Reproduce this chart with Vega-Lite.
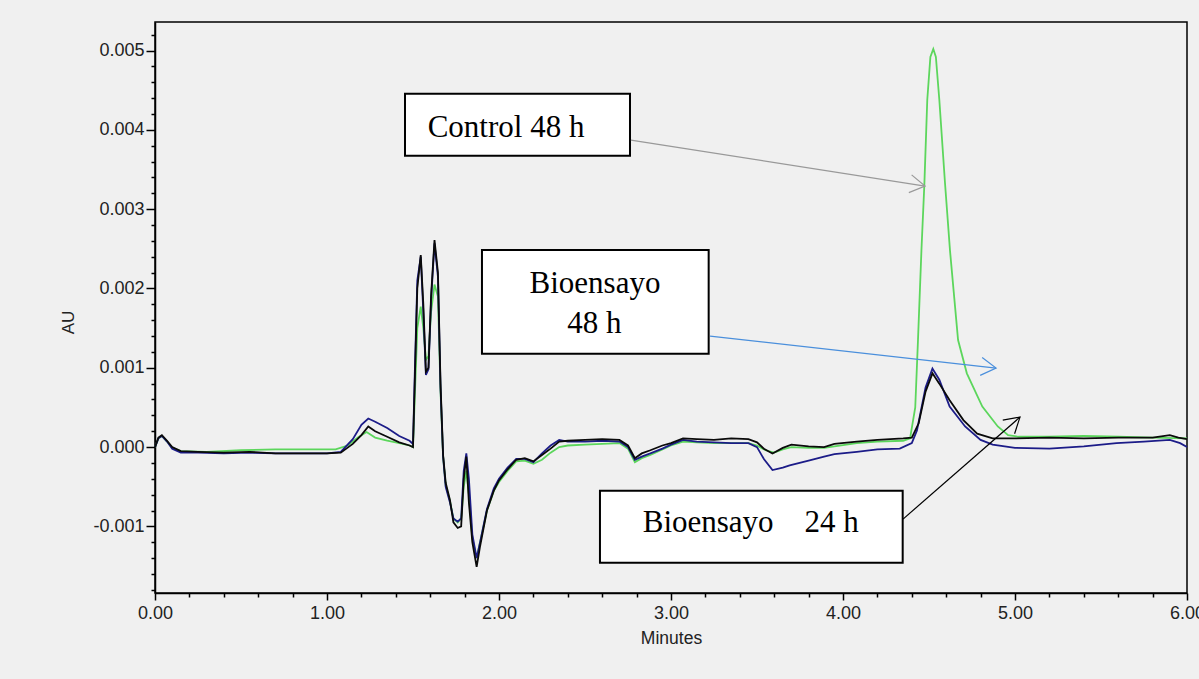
{
  "$schema": "https://vega.github.io/schema/vega-lite/v6.json",
  "autosize": {"type": "none"},
  "width": 1032,
  "height": 571,
  "padding": {"left": 155, "top": 22, "right": 12, "bottom": 86},
  "background": "#f0f0f0",
  "config": {
    "view": {"stroke": "#000000", "strokeWidth": 1.5, "fill": null},
    "font": "Liberation Sans",
    "axis": {"labelOverlap": false, "labelBound": false, "labelFlush": false, "grid": false}
  },
  "resolve": {"axis": {"x": "independent", "y": "independent"}},
  "datasets": {
    "traces": [
      {"s": "Control 48 h", "t": 0.00, "v": 0.00000},
      {"s": "Control 48 h", "t": 0.02, "v": 0.00011},
      {"s": "Control 48 h", "t": 0.04, "v": 0.00014},
      {"s": "Control 48 h", "t": 0.07, "v": 0.00007},
      {"s": "Control 48 h", "t": 0.10, "v": -0.00001},
      {"s": "Control 48 h", "t": 0.15, "v": -0.00005},
      {"s": "Control 48 h", "t": 0.30, "v": -0.00006},
      {"s": "Control 48 h", "t": 0.50, "v": -0.00004},
      {"s": "Control 48 h", "t": 0.70, "v": -0.00003},
      {"s": "Control 48 h", "t": 0.90, "v": -0.00003},
      {"s": "Control 48 h", "t": 1.05, "v": -0.00003},
      {"s": "Control 48 h", "t": 1.12, "v": 0.00002},
      {"s": "Control 48 h", "t": 1.18, "v": 0.00012},
      {"s": "Control 48 h", "t": 1.23, "v": 0.00019},
      {"s": "Control 48 h", "t": 1.28, "v": 0.00012},
      {"s": "Control 48 h", "t": 1.35, "v": 0.00008},
      {"s": "Control 48 h", "t": 1.42, "v": 0.00005},
      {"s": "Control 48 h", "t": 1.48, "v": 0.00002},
      {"s": "Control 48 h", "t": 1.50, "v": 0.00000},
      {"s": "Control 48 h", "t": 1.51, "v": 0.00060},
      {"s": "Control 48 h", "t": 1.525, "v": 0.00150},
      {"s": "Control 48 h", "t": 1.545, "v": 0.00177},
      {"s": "Control 48 h", "t": 1.56, "v": 0.00150},
      {"s": "Control 48 h", "t": 1.575, "v": 0.00110},
      {"s": "Control 48 h", "t": 1.59, "v": 0.00115},
      {"s": "Control 48 h", "t": 1.605, "v": 0.00170},
      {"s": "Control 48 h", "t": 1.625, "v": 0.00205},
      {"s": "Control 48 h", "t": 1.645, "v": 0.00190},
      {"s": "Control 48 h", "t": 1.66, "v": 0.00070},
      {"s": "Control 48 h", "t": 1.675, "v": -0.00012},
      {"s": "Control 48 h", "t": 1.69, "v": -0.00048},
      {"s": "Control 48 h", "t": 1.715, "v": -0.00068},
      {"s": "Control 48 h", "t": 1.735, "v": -0.00090},
      {"s": "Control 48 h", "t": 1.76, "v": -0.00095},
      {"s": "Control 48 h", "t": 1.78, "v": -0.00090},
      {"s": "Control 48 h", "t": 1.795, "v": -0.00050},
      {"s": "Control 48 h", "t": 1.81, "v": -0.00030},
      {"s": "Control 48 h", "t": 1.825, "v": -0.00060},
      {"s": "Control 48 h", "t": 1.845, "v": -0.00115},
      {"s": "Control 48 h", "t": 1.87, "v": -0.00140},
      {"s": "Control 48 h", "t": 1.89, "v": -0.00120},
      {"s": "Control 48 h", "t": 1.93, "v": -0.00080},
      {"s": "Control 48 h", "t": 1.97, "v": -0.00055},
      {"s": "Control 48 h", "t": 2.00, "v": -0.00044},
      {"s": "Control 48 h", "t": 2.05, "v": -0.00030},
      {"s": "Control 48 h", "t": 2.10, "v": -0.00018},
      {"s": "Control 48 h", "t": 2.15, "v": -0.00017},
      {"s": "Control 48 h", "t": 2.20, "v": -0.00021},
      {"s": "Control 48 h", "t": 2.25, "v": -0.00016},
      {"s": "Control 48 h", "t": 2.30, "v": -0.00007},
      {"s": "Control 48 h", "t": 2.35, "v": 0.00000},
      {"s": "Control 48 h", "t": 2.40, "v": 0.00002},
      {"s": "Control 48 h", "t": 2.50, "v": 0.00003},
      {"s": "Control 48 h", "t": 2.60, "v": 0.00004},
      {"s": "Control 48 h", "t": 2.70, "v": 0.00005},
      {"s": "Control 48 h", "t": 2.75, "v": -0.00002},
      {"s": "Control 48 h", "t": 2.79, "v": -0.00019},
      {"s": "Control 48 h", "t": 2.83, "v": -0.00014},
      {"s": "Control 48 h", "t": 2.88, "v": -0.00010},
      {"s": "Control 48 h", "t": 2.95, "v": -0.00003},
      {"s": "Control 48 h", "t": 3.00, "v": 0.00002},
      {"s": "Control 48 h", "t": 3.07, "v": 0.00007},
      {"s": "Control 48 h", "t": 3.15, "v": 0.00006},
      {"s": "Control 48 h", "t": 3.25, "v": 0.00005},
      {"s": "Control 48 h", "t": 3.35, "v": 0.00005},
      {"s": "Control 48 h", "t": 3.45, "v": 0.00005},
      {"s": "Control 48 h", "t": 3.50, "v": 0.00002},
      {"s": "Control 48 h", "t": 3.55, "v": -0.00004},
      {"s": "Control 48 h", "t": 3.60, "v": -0.00007},
      {"s": "Control 48 h", "t": 3.65, "v": -0.00003},
      {"s": "Control 48 h", "t": 3.70, "v": 0.00000},
      {"s": "Control 48 h", "t": 3.80, "v": -0.00001},
      {"s": "Control 48 h", "t": 3.89, "v": -0.00001},
      {"s": "Control 48 h", "t": 3.95, "v": 0.00001},
      {"s": "Control 48 h", "t": 4.08, "v": 0.00005},
      {"s": "Control 48 h", "t": 4.20, "v": 0.00007},
      {"s": "Control 48 h", "t": 4.35, "v": 0.00008},
      {"s": "Control 48 h", "t": 4.39, "v": 0.00011},
      {"s": "Control 48 h", "t": 4.42, "v": 0.00050},
      {"s": "Control 48 h", "t": 4.436, "v": 0.00135},
      {"s": "Control 48 h", "t": 4.456, "v": 0.00248},
      {"s": "Control 48 h", "t": 4.473, "v": 0.00331},
      {"s": "Control 48 h", "t": 4.49, "v": 0.00438},
      {"s": "Control 48 h", "t": 4.508, "v": 0.00492},
      {"s": "Control 48 h", "t": 4.525, "v": 0.00502},
      {"s": "Control 48 h", "t": 4.54, "v": 0.00492},
      {"s": "Control 48 h", "t": 4.56, "v": 0.00438},
      {"s": "Control 48 h", "t": 4.593, "v": 0.00333},
      {"s": "Control 48 h", "t": 4.622, "v": 0.00248},
      {"s": "Control 48 h", "t": 4.669, "v": 0.00135},
      {"s": "Control 48 h", "t": 4.72, "v": 0.00093},
      {"s": "Control 48 h", "t": 4.81, "v": 0.00051},
      {"s": "Control 48 h", "t": 4.90, "v": 0.00026},
      {"s": "Control 48 h", "t": 4.96, "v": 0.00015},
      {"s": "Control 48 h", "t": 5.02, "v": 0.00013},
      {"s": "Control 48 h", "t": 5.20, "v": 0.00013},
      {"s": "Control 48 h", "t": 5.40, "v": 0.00014},
      {"s": "Control 48 h", "t": 5.60, "v": 0.00013},
      {"s": "Control 48 h", "t": 5.80, "v": 0.00012},
      {"s": "Control 48 h", "t": 6.00, "v": 0.00011},

      {"s": "Bioensayo 48 h", "t": 0.00, "v": 0.00000},
      {"s": "Bioensayo 48 h", "t": 0.02, "v": 0.00011},
      {"s": "Bioensayo 48 h", "t": 0.04, "v": 0.00014},
      {"s": "Bioensayo 48 h", "t": 0.07, "v": 0.00007},
      {"s": "Bioensayo 48 h", "t": 0.10, "v": -0.00002},
      {"s": "Bioensayo 48 h", "t": 0.15, "v": -0.00007},
      {"s": "Bioensayo 48 h", "t": 0.25, "v": -0.00007},
      {"s": "Bioensayo 48 h", "t": 0.40, "v": -0.00008},
      {"s": "Bioensayo 48 h", "t": 0.55, "v": -0.00007},
      {"s": "Bioensayo 48 h", "t": 0.70, "v": -0.00008},
      {"s": "Bioensayo 48 h", "t": 0.85, "v": -0.00008},
      {"s": "Bioensayo 48 h", "t": 1.00, "v": -0.00008},
      {"s": "Bioensayo 48 h", "t": 1.08, "v": -0.00006},
      {"s": "Bioensayo 48 h", "t": 1.15, "v": 0.00010},
      {"s": "Bioensayo 48 h", "t": 1.20, "v": 0.00028},
      {"s": "Bioensayo 48 h", "t": 1.24, "v": 0.00036},
      {"s": "Bioensayo 48 h", "t": 1.28, "v": 0.00032},
      {"s": "Bioensayo 48 h", "t": 1.35, "v": 0.00024},
      {"s": "Bioensayo 48 h", "t": 1.42, "v": 0.00014},
      {"s": "Bioensayo 48 h", "t": 1.48, "v": 0.00008},
      {"s": "Bioensayo 48 h", "t": 1.50, "v": 0.00004},
      {"s": "Bioensayo 48 h", "t": 1.51, "v": 0.00090},
      {"s": "Bioensayo 48 h", "t": 1.525, "v": 0.00210},
      {"s": "Bioensayo 48 h", "t": 1.545, "v": 0.00240},
      {"s": "Bioensayo 48 h", "t": 1.56, "v": 0.00170},
      {"s": "Bioensayo 48 h", "t": 1.575, "v": 0.00091},
      {"s": "Bioensayo 48 h", "t": 1.59, "v": 0.00098},
      {"s": "Bioensayo 48 h", "t": 1.605, "v": 0.00185},
      {"s": "Bioensayo 48 h", "t": 1.625, "v": 0.00257},
      {"s": "Bioensayo 48 h", "t": 1.645, "v": 0.00215},
      {"s": "Bioensayo 48 h", "t": 1.66, "v": 0.00075},
      {"s": "Bioensayo 48 h", "t": 1.675, "v": -0.00012},
      {"s": "Bioensayo 48 h", "t": 1.69, "v": -0.00050},
      {"s": "Bioensayo 48 h", "t": 1.715, "v": -0.00070},
      {"s": "Bioensayo 48 h", "t": 1.735, "v": -0.00090},
      {"s": "Bioensayo 48 h", "t": 1.76, "v": -0.00094},
      {"s": "Bioensayo 48 h", "t": 1.78, "v": -0.00090},
      {"s": "Bioensayo 48 h", "t": 1.795, "v": -0.00030},
      {"s": "Bioensayo 48 h", "t": 1.81, "v": -0.00008},
      {"s": "Bioensayo 48 h", "t": 1.825, "v": -0.00040},
      {"s": "Bioensayo 48 h", "t": 1.845, "v": -0.00110},
      {"s": "Bioensayo 48 h", "t": 1.87, "v": -0.00140},
      {"s": "Bioensayo 48 h", "t": 1.89, "v": -0.00120},
      {"s": "Bioensayo 48 h", "t": 1.93, "v": -0.00078},
      {"s": "Bioensayo 48 h", "t": 1.97, "v": -0.00052},
      {"s": "Bioensayo 48 h", "t": 2.00, "v": -0.00040},
      {"s": "Bioensayo 48 h", "t": 2.05, "v": -0.00026},
      {"s": "Bioensayo 48 h", "t": 2.10, "v": -0.00015},
      {"s": "Bioensayo 48 h", "t": 2.15, "v": -0.00015},
      {"s": "Bioensayo 48 h", "t": 2.20, "v": -0.00019},
      {"s": "Bioensayo 48 h", "t": 2.25, "v": -0.00008},
      {"s": "Bioensayo 48 h", "t": 2.30, "v": 0.00002},
      {"s": "Bioensayo 48 h", "t": 2.35, "v": 0.00009},
      {"s": "Bioensayo 48 h", "t": 2.40, "v": 0.00007},
      {"s": "Bioensayo 48 h", "t": 2.50, "v": 0.00007},
      {"s": "Bioensayo 48 h", "t": 2.60, "v": 0.00008},
      {"s": "Bioensayo 48 h", "t": 2.70, "v": 0.00007},
      {"s": "Bioensayo 48 h", "t": 2.75, "v": 0.00000},
      {"s": "Bioensayo 48 h", "t": 2.79, "v": -0.00016},
      {"s": "Bioensayo 48 h", "t": 2.83, "v": -0.00012},
      {"s": "Bioensayo 48 h", "t": 2.88, "v": -0.00008},
      {"s": "Bioensayo 48 h", "t": 2.95, "v": -0.00002},
      {"s": "Bioensayo 48 h", "t": 3.00, "v": 0.00003},
      {"s": "Bioensayo 48 h", "t": 3.07, "v": 0.00009},
      {"s": "Bioensayo 48 h", "t": 3.15, "v": 0.00007},
      {"s": "Bioensayo 48 h", "t": 3.25, "v": 0.00006},
      {"s": "Bioensayo 48 h", "t": 3.35, "v": 0.00005},
      {"s": "Bioensayo 48 h", "t": 3.45, "v": 0.00005},
      {"s": "Bioensayo 48 h", "t": 3.50, "v": 0.00000},
      {"s": "Bioensayo 48 h", "t": 3.54, "v": -0.00015},
      {"s": "Bioensayo 48 h", "t": 3.59, "v": -0.00029},
      {"s": "Bioensayo 48 h", "t": 3.65, "v": -0.00026},
      {"s": "Bioensayo 48 h", "t": 3.69, "v": -0.00023},
      {"s": "Bioensayo 48 h", "t": 3.80, "v": -0.00017},
      {"s": "Bioensayo 48 h", "t": 3.89, "v": -0.00012},
      {"s": "Bioensayo 48 h", "t": 3.95, "v": -0.00009},
      {"s": "Bioensayo 48 h", "t": 4.08, "v": -0.00006},
      {"s": "Bioensayo 48 h", "t": 4.20, "v": -0.00003},
      {"s": "Bioensayo 48 h", "t": 4.33, "v": -0.00002},
      {"s": "Bioensayo 48 h", "t": 4.40, "v": 0.00005},
      {"s": "Bioensayo 48 h", "t": 4.43, "v": 0.00021},
      {"s": "Bioensayo 48 h", "t": 4.48, "v": 0.00075},
      {"s": "Bioensayo 48 h", "t": 4.52, "v": 0.00099},
      {"s": "Bioensayo 48 h", "t": 4.56, "v": 0.00085},
      {"s": "Bioensayo 48 h", "t": 4.62, "v": 0.00051},
      {"s": "Bioensayo 48 h", "t": 4.71, "v": 0.00026},
      {"s": "Bioensayo 48 h", "t": 4.80, "v": 0.00009},
      {"s": "Bioensayo 48 h", "t": 4.87, "v": 0.00003},
      {"s": "Bioensayo 48 h", "t": 5.00, "v": -0.00001},
      {"s": "Bioensayo 48 h", "t": 5.20, "v": -0.00002},
      {"s": "Bioensayo 48 h", "t": 5.40, "v": 0.00001},
      {"s": "Bioensayo 48 h", "t": 5.59, "v": 0.00005},
      {"s": "Bioensayo 48 h", "t": 5.75, "v": 0.00007},
      {"s": "Bioensayo 48 h", "t": 5.90, "v": 0.00009},
      {"s": "Bioensayo 48 h", "t": 5.96, "v": 0.00005},
      {"s": "Bioensayo 48 h", "t": 6.00, "v": 0.00000},

      {"s": "Bioensayo 24 h", "t": 0.00, "v": 0.00000},
      {"s": "Bioensayo 24 h", "t": 0.02, "v": 0.00012},
      {"s": "Bioensayo 24 h", "t": 0.04, "v": 0.00015},
      {"s": "Bioensayo 24 h", "t": 0.07, "v": 0.00008},
      {"s": "Bioensayo 24 h", "t": 0.10, "v": 0.00000},
      {"s": "Bioensayo 24 h", "t": 0.15, "v": -0.00005},
      {"s": "Bioensayo 24 h", "t": 0.25, "v": -0.00006},
      {"s": "Bioensayo 24 h", "t": 0.40, "v": -0.00007},
      {"s": "Bioensayo 24 h", "t": 0.55, "v": -0.00006},
      {"s": "Bioensayo 24 h", "t": 0.70, "v": -0.00008},
      {"s": "Bioensayo 24 h", "t": 0.85, "v": -0.00008},
      {"s": "Bioensayo 24 h", "t": 1.00, "v": -0.00008},
      {"s": "Bioensayo 24 h", "t": 1.08, "v": -0.00007},
      {"s": "Bioensayo 24 h", "t": 1.15, "v": 0.00004},
      {"s": "Bioensayo 24 h", "t": 1.20, "v": 0.00015},
      {"s": "Bioensayo 24 h", "t": 1.24, "v": 0.00026},
      {"s": "Bioensayo 24 h", "t": 1.28, "v": 0.00020},
      {"s": "Bioensayo 24 h", "t": 1.35, "v": 0.00013},
      {"s": "Bioensayo 24 h", "t": 1.42, "v": 0.00006},
      {"s": "Bioensayo 24 h", "t": 1.48, "v": 0.00002},
      {"s": "Bioensayo 24 h", "t": 1.50, "v": 0.00000},
      {"s": "Bioensayo 24 h", "t": 1.51, "v": 0.00080},
      {"s": "Bioensayo 24 h", "t": 1.525, "v": 0.00200},
      {"s": "Bioensayo 24 h", "t": 1.545, "v": 0.00242},
      {"s": "Bioensayo 24 h", "t": 1.56, "v": 0.00180},
      {"s": "Bioensayo 24 h", "t": 1.575, "v": 0.00095},
      {"s": "Bioensayo 24 h", "t": 1.59, "v": 0.00100},
      {"s": "Bioensayo 24 h", "t": 1.605, "v": 0.00190},
      {"s": "Bioensayo 24 h", "t": 1.625, "v": 0.00261},
      {"s": "Bioensayo 24 h", "t": 1.645, "v": 0.00220},
      {"s": "Bioensayo 24 h", "t": 1.66, "v": 0.00080},
      {"s": "Bioensayo 24 h", "t": 1.675, "v": -0.00010},
      {"s": "Bioensayo 24 h", "t": 1.69, "v": -0.00045},
      {"s": "Bioensayo 24 h", "t": 1.715, "v": -0.00067},
      {"s": "Bioensayo 24 h", "t": 1.735, "v": -0.00095},
      {"s": "Bioensayo 24 h", "t": 1.76, "v": -0.00102},
      {"s": "Bioensayo 24 h", "t": 1.78, "v": -0.00100},
      {"s": "Bioensayo 24 h", "t": 1.795, "v": -0.00040},
      {"s": "Bioensayo 24 h", "t": 1.81, "v": -0.00012},
      {"s": "Bioensayo 24 h", "t": 1.825, "v": -0.00070},
      {"s": "Bioensayo 24 h", "t": 1.845, "v": -0.00120},
      {"s": "Bioensayo 24 h", "t": 1.87, "v": -0.00151},
      {"s": "Bioensayo 24 h", "t": 1.89, "v": -0.00125},
      {"s": "Bioensayo 24 h", "t": 1.93, "v": -0.00080},
      {"s": "Bioensayo 24 h", "t": 1.97, "v": -0.00055},
      {"s": "Bioensayo 24 h", "t": 2.00, "v": -0.00042},
      {"s": "Bioensayo 24 h", "t": 2.05, "v": -0.00028},
      {"s": "Bioensayo 24 h", "t": 2.10, "v": -0.00016},
      {"s": "Bioensayo 24 h", "t": 2.15, "v": -0.00014},
      {"s": "Bioensayo 24 h", "t": 2.20, "v": -0.00018},
      {"s": "Bioensayo 24 h", "t": 2.25, "v": -0.00010},
      {"s": "Bioensayo 24 h", "t": 2.30, "v": -0.00002},
      {"s": "Bioensayo 24 h", "t": 2.35, "v": 0.00007},
      {"s": "Bioensayo 24 h", "t": 2.40, "v": 0.00008},
      {"s": "Bioensayo 24 h", "t": 2.50, "v": 0.00009},
      {"s": "Bioensayo 24 h", "t": 2.60, "v": 0.00010},
      {"s": "Bioensayo 24 h", "t": 2.70, "v": 0.00009},
      {"s": "Bioensayo 24 h", "t": 2.75, "v": 0.00002},
      {"s": "Bioensayo 24 h", "t": 2.79, "v": -0.00014},
      {"s": "Bioensayo 24 h", "t": 2.83, "v": -0.00008},
      {"s": "Bioensayo 24 h", "t": 2.88, "v": -0.00004},
      {"s": "Bioensayo 24 h", "t": 2.95, "v": 0.00002},
      {"s": "Bioensayo 24 h", "t": 3.00, "v": 0.00005},
      {"s": "Bioensayo 24 h", "t": 3.07, "v": 0.00011},
      {"s": "Bioensayo 24 h", "t": 3.15, "v": 0.00010},
      {"s": "Bioensayo 24 h", "t": 3.25, "v": 0.00009},
      {"s": "Bioensayo 24 h", "t": 3.35, "v": 0.00011},
      {"s": "Bioensayo 24 h", "t": 3.45, "v": 0.00010},
      {"s": "Bioensayo 24 h", "t": 3.50, "v": 0.00006},
      {"s": "Bioensayo 24 h", "t": 3.54, "v": -0.00002},
      {"s": "Bioensayo 24 h", "t": 3.59, "v": -0.00008},
      {"s": "Bioensayo 24 h", "t": 3.65, "v": -0.00001},
      {"s": "Bioensayo 24 h", "t": 3.70, "v": 0.00003},
      {"s": "Bioensayo 24 h", "t": 3.80, "v": 0.00001},
      {"s": "Bioensayo 24 h", "t": 3.89, "v": 0.00000},
      {"s": "Bioensayo 24 h", "t": 3.95, "v": 0.00004},
      {"s": "Bioensayo 24 h", "t": 4.08, "v": 0.00007},
      {"s": "Bioensayo 24 h", "t": 4.20, "v": 0.00009},
      {"s": "Bioensayo 24 h", "t": 4.35, "v": 0.00011},
      {"s": "Bioensayo 24 h", "t": 4.40, "v": 0.00012},
      {"s": "Bioensayo 24 h", "t": 4.44, "v": 0.00030},
      {"s": "Bioensayo 24 h", "t": 4.48, "v": 0.00070},
      {"s": "Bioensayo 24 h", "t": 4.52, "v": 0.00093},
      {"s": "Bioensayo 24 h", "t": 4.56, "v": 0.00080},
      {"s": "Bioensayo 24 h", "t": 4.62, "v": 0.00059},
      {"s": "Bioensayo 24 h", "t": 4.70, "v": 0.00034},
      {"s": "Bioensayo 24 h", "t": 4.78, "v": 0.00017},
      {"s": "Bioensayo 24 h", "t": 4.87, "v": 0.00011},
      {"s": "Bioensayo 24 h", "t": 5.00, "v": 0.00011},
      {"s": "Bioensayo 24 h", "t": 5.20, "v": 0.00012},
      {"s": "Bioensayo 24 h", "t": 5.40, "v": 0.00011},
      {"s": "Bioensayo 24 h", "t": 5.60, "v": 0.00012},
      {"s": "Bioensayo 24 h", "t": 5.80, "v": 0.00012},
      {"s": "Bioensayo 24 h", "t": 5.90, "v": 0.00015},
      {"s": "Bioensayo 24 h", "t": 5.95, "v": 0.00012},
      {"s": "Bioensayo 24 h", "t": 6.00, "v": 0.00010}
    ],
    "boxes": [
      {"label": "Control 48 h", "x1": 1.4535, "x2": 2.7616, "y1": 0.004456, "y2": 0.003673},
      {"label": "Bioensayo 48 h", "x1": 1.901, "x2": 3.219, "y1": 0.002484, "y2": 0.001178},
      {"label": "Bioensayo 24 h", "x1": 2.587, "x2": 4.347, "y1": -0.000551, "y2": -0.001459}
    ],
    "labels": [
      {"text": "Control 48 h", "x": 2.041, "y": 0.003909},
      {"text": "Bioensayo", "x": 2.558, "y": 0.001942},
      {"text": "48 h", "x": 2.555, "y": 0.001438},
      {"text": "Bioensayo\u00a0\u00a0\u00a0\u00a024 h", "x": 3.464, "y": -0.001068}
    ],
    "arrows": [
      {"arrow": "Control 48 h", "x1": 2.767, "y1": 0.003871, "x2": 4.477, "y2": 0.003291, "dir": 8.9},
      {"arrow": "Bioensayo 48 h", "x1": 3.227, "y1": 0.0014, "x2": 4.89, "y2": 0.000996, "dir": 6.4},
      {"arrow": "Bioensayo 24 h", "x1": 4.349, "y1": -0.000908, "x2": 5.029, "y2": 0.000378, "dir": 318.9}
    ]
  },
  "layer": [
    {
      "data": {"name": "traces"},
      "mark": {"type": "line", "strokeWidth": 1.8, "interpolate": "linear"},
      "encoding": {
        "x": {
          "field": "t", "type": "quantitative",
          "scale": {"domain": [0, 6], "nice": false, "zero": false},
          "axis": {
            "title": "Minutes",
            "values": [0, 0.2, 0.4, 0.6, 0.8, 1, 1.2, 1.4, 1.6, 1.8, 2, 2.2, 2.4, 2.6, 2.8, 3, 3.2, 3.4, 3.6, 3.8, 4, 4.2, 4.4, 4.6, 4.8, 5, 5.2, 5.4, 5.6, 5.8, 6],
            "labelExpr": "abs(datum.value - round(datum.value)) < 0.000001 ? format(datum.value, '.2f') : ''",
            "tickSize": {"condition": {"test": "abs(datum.value - round(datum.value)) < 0.000001", "value": 7}, "value": 4},
            "labelPadding": 4,
            "domainColor": "#000000",
            "domainWidth": 1.5,
            "tickColor": "#000000",
            "tickWidth": 1.5,
            "labelFontSize": 18,
            "labelColor": "#222222",
            "labelFont": "Liberation Sans",
            "titleFont": "Liberation Sans",
            "titleFontSize": 17.5,
            "titleFontWeight": "normal",
            "titleColor": "#222222",
            "titleBaseline": "middle",
            "titleY": 45
          }
        },
        "y": {
          "field": "v", "type": "quantitative",
          "scale": {"domain": [-0.00184, 0.00536], "nice": false, "zero": false},
          "axis": {
            "title": "AU",
            "values": [-0.0018, -0.0016, -0.0014, -0.0012, -0.001, -0.0008, -0.0006, -0.0004, -0.0002, 0, 0.0002, 0.0004, 0.0006, 0.0008, 0.001, 0.0012, 0.0014, 0.0016, 0.0018, 0.002, 0.0022, 0.0024, 0.0026, 0.0028, 0.003, 0.0032, 0.0034, 0.0036, 0.0038, 0.004, 0.0042, 0.0044, 0.0046, 0.0048, 0.005, 0.0052],
            "labelExpr": "abs(datum.value * 1000 - round(datum.value * 1000)) < 0.000001 ? replace(format(datum.value, '.3f'), '\u2212', '-') : ''",
            "tickSize": {"condition": {"test": "abs(datum.value * 1000 - round(datum.value * 1000)) < 0.000001", "value": 9}, "value": 4},
            "labelPadding": 2,
            "domainColor": "#000000",
            "domainWidth": 1.5,
            "tickColor": "#000000",
            "tickWidth": 1.5,
            "labelFontSize": 18,
            "labelColor": "#222222",
            "labelFont": "Liberation Sans",
            "titleFont": "Liberation Sans",
            "titleFontSize": 17,
            "titleFontWeight": "normal",
            "titleColor": "#222222",
            "titleAngle": -90,
            "titleAlign": "center",
            "titleBaseline": "middle",
            "titleX": -87,
            "titleY": 300
          }
        },
        "color": {
          "field": "s", "type": "nominal",
          "scale": {"domain": ["Control 48 h", "Bioensayo 48 h", "Bioensayo 24 h"], "range": ["#5cd65c", "#1c1c88", "#0a0a0a"]},
          "legend": null
        },
        "order": {"field": "t", "type": "quantitative"}
      }
    },
    {
      "data": {"name": "boxes"},
      "mark": {"type": "rect", "fill": "#ffffff", "stroke": "#000000", "strokeWidth": 2},
      "encoding": {
        "x": {"field": "x1", "type": "quantitative", "axis": null},
        "x2": {"field": "x2"},
        "y": {"field": "y1", "type": "quantitative", "axis": null},
        "y2": {"field": "y2"}
      }
    },
    {
      "data": {"name": "labels"},
      "mark": {"type": "text", "font": "Liberation Serif", "fontSize": 31, "align": "center", "baseline": "alphabetic", "color": "#000000"},
      "encoding": {
        "x": {"field": "x", "type": "quantitative", "axis": null},
        "y": {"field": "y", "type": "quantitative", "axis": null},
        "text": {"field": "text"}
      }
    },
    {
      "data": {"name": "arrows"},
      "mark": {"type": "rule", "strokeWidth": 1.2},
      "encoding": {
        "x": {"field": "x1", "type": "quantitative", "axis": null},
        "y": {"field": "y1", "type": "quantitative", "axis": null},
        "x2": {"field": "x2"},
        "y2": {"field": "y2"},
        "stroke": {
          "field": "arrow", "type": "nominal",
          "scale": {"domain": ["Control 48 h", "Bioensayo 48 h", "Bioensayo 24 h"], "range": ["#999999", "#4a8fdc", "#000000"]},
          "legend": null
        }
      }
    },
    {
      "data": {"name": "arrows"},
      "mark": {"type": "point", "shape": "M-1,-0.6L0,0L-1,0.6", "filled": false, "size": 900, "strokeWidth": 1.2, "opacity": 1},
      "encoding": {
        "x": {"field": "x2", "type": "quantitative", "axis": null},
        "y": {"field": "y2", "type": "quantitative", "axis": null},
        "angle": {"field": "dir", "type": "quantitative", "scale": null},
        "stroke": {"field": "arrow", "type": "nominal", "legend": null}
      }
    }
  ]
}
